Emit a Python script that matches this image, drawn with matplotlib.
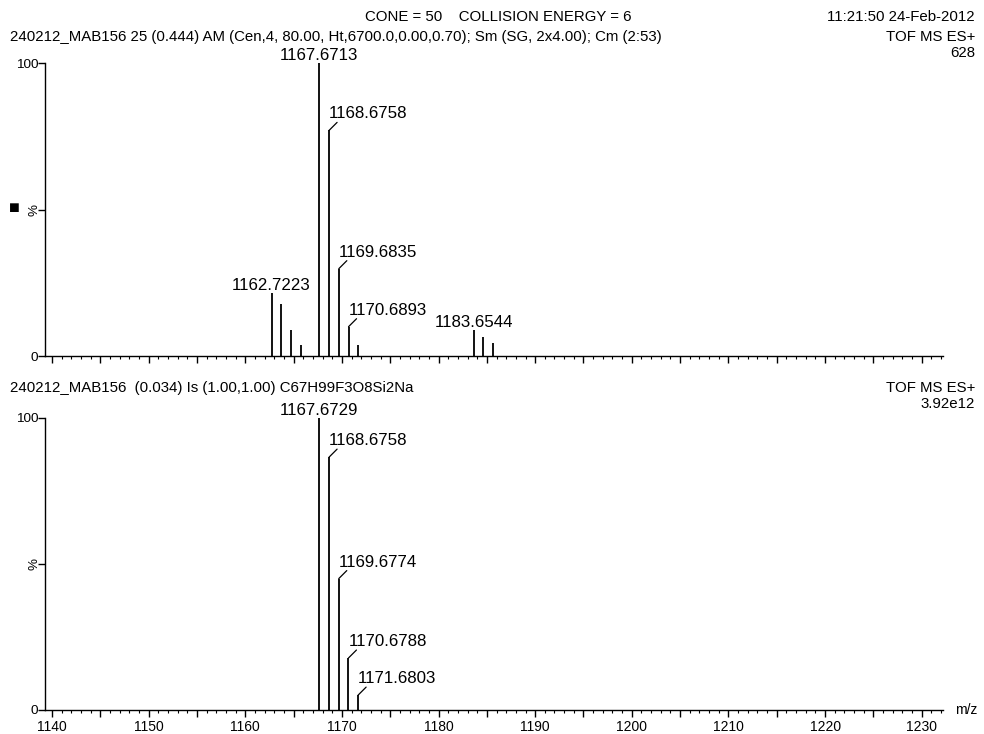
import matplotlib
matplotlib.use("Agg")
import matplotlib.pyplot as plt
from matplotlib.ticker import MultipleLocator, FuncFormatter
from matplotlib.transforms import offset_copy

plt.rcParams['font.family'] = ['Liberation Sans', 'DejaVu Sans']

W, H = 984, 734

# spectrum (top): measured
top_mz = [1162.7223, 1163.72, 1164.72, 1165.72, 1167.6713, 1168.6758,
          1169.6835, 1170.6893, 1171.69, 1183.6544, 1184.65, 1185.65]
top_int = [21.6, 17.8, 8.9, 3.8, 100, 77.0, 29.8, 10.0, 3.8, 8.9, 6.5, 4.5]
top_lab = ['1162.7223', None, None, None, '1167.6713', '1168.6758',
           '1169.6835', '1170.6893', None, '1183.6544', None, None]
top_style = ['c', None, None, None, 'c', 'l', 'l', 'l', None, 'c', None, None]

# isotope model (bottom)
bot_mz = [1167.6729, 1168.6758, 1169.6774, 1170.6788, 1171.6803]
bot_int = [100, 86.6, 45.0, 17.8, 5.1]
bot_lab = ['1167.6729', '1168.6758', '1169.6774', '1170.6788', '1171.6803']
bot_style = ['c', 'l', 'l', 'l', 'l']

xmin, xmax = 1139.28, 1232.2

fig = plt.figure(figsize=(W / 100, H / 100), dpi=100)


def px(x, y):
    return x / W, 1 - y / H


def panel(rect, mz, inten, labels, styles, show_xlabels):
    ax = fig.add_axes(rect)
    ax.vlines(mz, 0, inten, color='black', lw=1.3)
    ax.set_xlim(xmin, xmax)
    ax.set_ylim(0, 100)
    for s in ['top', 'right']:
        ax.spines[s].set_visible(False)
    ax.spines['left'].set_linewidth(1.0)
    ax.spines['bottom'].set_linewidth(1.0)
    ax.xaxis.set_major_locator(MultipleLocator(5))
    ax.xaxis.set_minor_locator(MultipleLocator(1))
    if show_xlabels:
        ax.xaxis.set_major_formatter(FuncFormatter(
            lambda v, p: '%d' % v if round(v) % 10 == 0 else ''))
    else:
        ax.xaxis.set_major_formatter(FuncFormatter(lambda v, p: ''))
    ax.tick_params(axis='x', which='major', length=5, width=1, labelsize=10, pad=2)
    ax.tick_params(axis='x', which='minor', length=2.5, width=0.8)
    ax.set_yticks([0, 50, 100])
    ax.set_yticklabels(['0', '', '100'])
    ax.tick_params(axis='y', length=5, width=1, labelsize=9.7, pad=0)
    ax.text(-10 / 898, 0.5, '%', transform=ax.transAxes, rotation=90,
            ha='center', va='center', fontsize=9.7)
    for m, v, lab, st in zip(mz, inten, labels, styles):
        if lab is None:
            continue
        if st == 'c':
            t = offset_copy(ax.transData, fig=fig, x=0, y=3, units='dots')
            ax.text(m, v, lab, transform=t, ha='center', va='baseline',
                    fontsize=12.2, clip_on=False)
        else:
            ax.annotate('', xy=(m, v), xytext=(8, 8), textcoords='offset pixels',
                        arrowprops=dict(arrowstyle='-', color='black', lw=0.9,
                                        shrinkA=0, shrinkB=0))
            ax.annotate(lab, xy=(m, v), xytext=(0, 12), textcoords='offset pixels',
                        ha='left', va='baseline', fontsize=12.2)
    return ax


ax1 = panel([45 / W, 1 - 356 / H, (943 - 45) / W, 293 / H],
            top_mz, top_int, top_lab, top_style, False)
ax2 = panel([45 / W, 1 - 710 / H, (943 - 45) / W, 292 / H],
            bot_mz, bot_int, bot_lab, bot_style, True)

hs = 10.8
fig.text(*px(365, 17), 'CONE = 50    COLLISION ENERGY = 6', fontsize=hs, va='center')
fig.text(*px(975, 17), '11:21:50 24-Feb-2012', fontsize=hs, va='center', ha='right')
fig.text(*px(10, 37), '240212_MAB156 25 (0.444) AM (Cen,4, 80.00, Ht,6700.0,0.00,0.70); '
         'Sm (SG, 2x4.00); Cm (2:53)', fontsize=hs, va='center')
fig.text(*px(975, 37), 'TOF MS ES+', fontsize=hs, va='center', ha='right')
fig.text(*px(975, 53), '628', fontsize=hs, va='center', ha='right')
fig.text(*px(10, 388), '240212_MAB156  (0.034) Is (1.00,1.00) C67H99F3O8Si2Na',
         fontsize=hs, va='center')
fig.text(*px(975, 388), 'TOF MS ES+', fontsize=hs, va='center', ha='right')
fig.text(*px(975, 404), '3.92e12', fontsize=hs, va='center', ha='right')
fig.text(*px(955, 710), 'm/z', fontsize=10, va='center', ha='left')
fig.text(*px(14, 209), '\u25a0', fontsize=13, va='center', ha='center')

fig.savefig('out.png', dpi=100)
